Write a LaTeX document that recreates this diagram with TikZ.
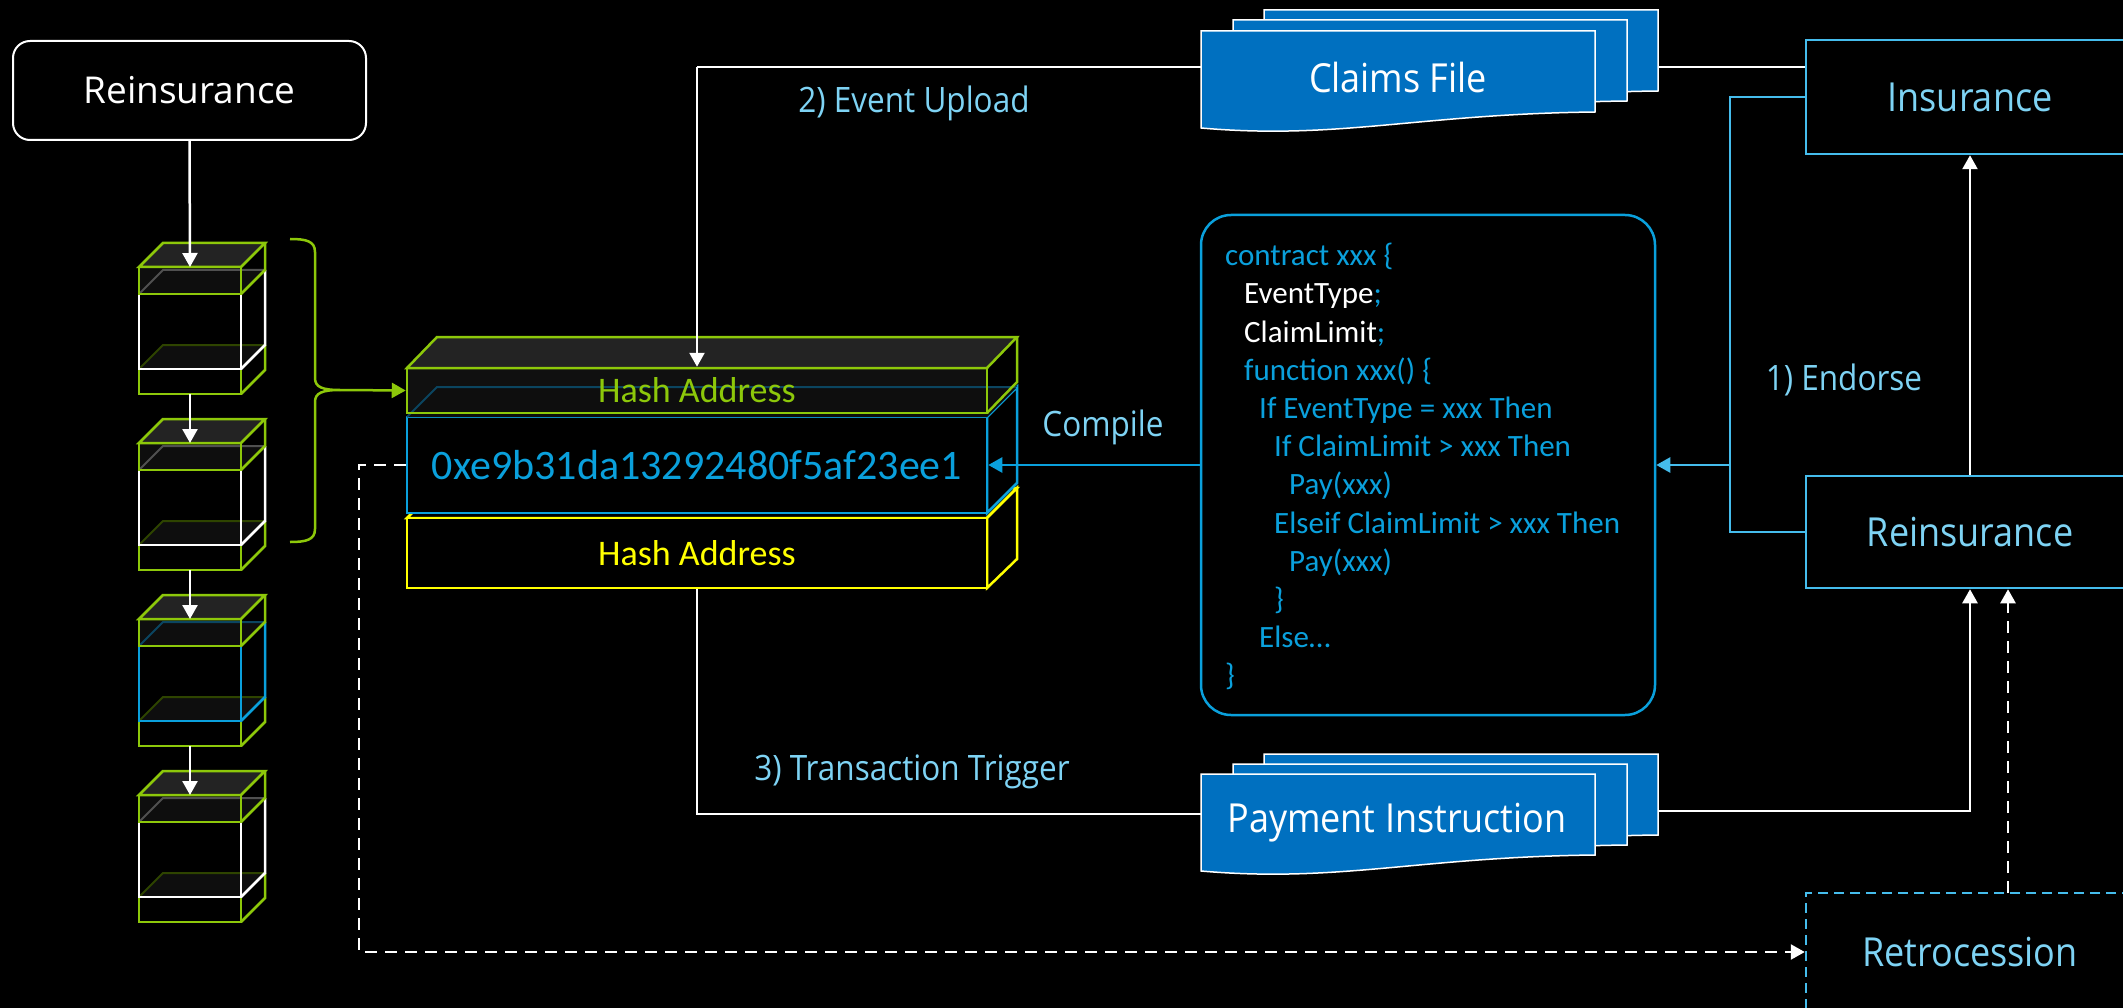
\documentclass[tikz,border=0pt]{standalone}
\usepackage{fontspec}
\setmainfont{Open Sans}
\newfontfamily\ltf[FakeStretch=0.9]{Open Sans}
\newfontfamily\calf{Carlito}
\usetikzlibrary{arrows.meta,calc}
\definecolor{gr}{HTML}{8DC80A}
\definecolor{cb}{HTML}{0AA0DC}
\definecolor{lb}{HTML}{7ED3F4}
\definecolor{bb}{HTML}{45BCEC}
\definecolor{docb}{HTML}{0070C0}
\definecolor{ylw}{HTML}{FFFF00}
\definecolor{pgrey}{HTML}{505050}
\definecolor{pblue}{HTML}{0B4560}
\definecolor{pgreen}{HTML}{2E4400}
\definecolor{topf}{HTML}{232323}
\definecolor{planef}{HTML}{0E0E0E}
\definecolor{slabf}{HTML}{101010}
\tikzset{
  arr/.style={-{Triangle[length=14pt,width=15pt]}},
  wl/.style={draw=white,line width=2.5pt},
  bl/.style={draw=bb,line width=2.5pt},
  cbl/.style={draw=cb,line width=2.5pt},
  gl/.style={draw=gr,line width=2.5pt},
  dsh/.style={draw=white,line width=2.5pt,dash pattern=on 12pt off 8pt},
  doc/.style={fill=docb,draw=white,line width=1.5pt},
  bigbox/.style={draw=bb,line width=2.5pt,minimum width=328pt,inner sep=0pt,text=lb,font=\ltf\fontsize{40}{48}\selectfont},
  lbl/.style={inner sep=0pt,text=lb,font=\ltf\fontsize{35}{42}\selectfont},
  doctext/.style={inner sep=0pt,text=white,font=\ltf\fontsize{40}{48}\selectfont},
  codeln/.style={anchor=base west,inner sep=0pt,text=cb,font=\calf\fontsize{31}{37}\selectfont},
}
% cube: #1 = front top y, #2 = inner colour, #3 = inner plane edge colour
\newcommand\blockcube[3]{%
  \pgfmathsetmacro\ya{#1-24}\pgfmathsetmacro\yc{#1+3}\pgfmathsetmacro\yd{#1+27}%
  \pgfmathsetmacro\ye{#1+78}\pgfmathsetmacro\yf{#1+102}\pgfmathsetmacro\yg{#1+103}\pgfmathsetmacro\yh{#1+127}%
  \fill[planef] (139,#1) rectangle (241,\yd);
  \fill[planef] (139,\yd) -- (241,\yd) -- (265,\yc) -- (163,\yc) -- cycle;
  \fill[planef] (139,\yf) -- (241,\yf) -- (265,\ye) -- (163,\ye) -- cycle;
  \draw[#3,line width=2pt] (139,\yd) -- (163,\yc) -- (265,\yc);
  \draw[pgreen,line width=2pt] (139,\yf) -- (163,\ye) -- (265,\ye);
  \draw[gl] (139,\yf) rectangle (241,\yh);
  \draw[gl] (241,\yh) -- (265,\yg) -- (265,\ye);
  \draw[draw=#2,line width=2.5pt] (139,\yd) rectangle (241,\yf);
  \draw[draw=#2,line width=2.5pt] (265,\yc) -- (265,\ye) -- (241,\yf);
  \filldraw[gl,fill=topf] (139,#1) -- (241,#1) -- (265,\ya) -- (163,\ya) -- cycle;
  \draw[gl] (139,#1) rectangle (241,\yd);
  \draw[gl] (265,\ya) -- (265,\yc) -- (241,\yd);
}
% document shape: #1 = left x, #2 = top y
\newcommand\docshape[2]{%
  \pgfmathsetmacro\xr{#1+394}\pgfmathsetmacro\yb{#2+81}\pgfmathsetmacro\yl{#2+97}%
  \pgfmathsetmacro\ca{#1+217}\pgfmathsetmacro\cbb{#2+83}\pgfmathsetmacro\cc{#1+138}\pgfmathsetmacro\cd{#2+109}%
  \filldraw[doc] (#1,#2) -- (\xr,#2) -- (\xr,\yb) .. controls (\ca,\cbb) and (\cc,\cd) .. (#1,\yl) -- cycle;
}
\begin{document}
\begin{tikzpicture}[x=1pt,y=-1pt]
\useasboundingbox (0,0) rectangle (2123,1008);
\clip (0,0) rectangle (2123,1008);
\fill[black] (0,0) rectangle (2123,1008);

% ---------- left chain ----------
\node[draw=white,line width=2pt,rounded corners=17pt,minimum width=353pt,minimum height=99pt,
      text=white,font=\fontsize{37}{44}\selectfont] (reinsL) at (189.5,90.5) {Reinsurance};
\blockcube{267}{white}{pgrey}
\blockcube{443}{white}{pgrey}
\blockcube{619}{cb}{pblue}
\blockcube{795}{white}{pgrey}
\coordinate (c1t) at (190,267); \coordinate (c1b) at (190,394);
\coordinate (c2t) at (190,443); \coordinate (c2b) at (190,570);
\coordinate (c3t) at (190,619); \coordinate (c3b) at (190,746);
\coordinate (c4t) at (190,795);
\draw[wl,arr] (reinsL.south) -- (c1t);
\draw[wl,arr] (c1b) -- (c2t);
\draw[wl,arr] (c2b) -- (c3t);
\draw[wl,arr] (c3b) -- (c4t);

% brace
\draw[gl] (290,239) .. controls (306,239) and (315,241) .. (315,252) -- (315,378)
  .. controls (315,387) and (322,390) .. (340,390)
  .. controls (322,390) and (315,393) .. (315,402) -- (315,529)
  .. controls (315,540) and (306,542) .. (290,542);
\coordinate (btip) at (340,390);

% ---------- hash block ----------
% yellow
\filldraw[draw=ylw,line width=2.5pt,fill=black] (407,518) -- (437,488) -- (1017,488) -- (987,518) -- cycle;
\filldraw[draw=ylw,line width=2.5pt,fill=black] (987,518) -- (1017,488) -- (1017,559) -- (987,588) -- cycle;
\node[draw=ylw,fill=black,line width=2.5pt,minimum width=580pt,minimum height=70pt,inner sep=0pt,
      text=ylw,font=\calf\fontsize{36}{43}\selectfont] (hashY) at (697,553) {Hash Address};
% blue
\filldraw[cbl,fill=black] (987,417) -- (1017,387) -- (1017,483) -- (987,513) -- cycle;
\node[draw=cb,fill=black,line width=2.5pt,minimum width=580pt,minimum height=96pt,inner sep=0pt,
      text=cb,font=\calf\fontsize{42}{50}\selectfont] (hex) at (697,465) {0xe9b31da13292480f5af23ee1};
% green slab
\fill[slabf] (407,368) rectangle (987,413);
\fill[planef] (407,417) -- (987,417) -- (1017,387) -- (437,387) -- cycle;
\draw[pblue,line width=2pt] (407,417) -- (437,387) -- (1017,387);
\draw[cbl] (1017,387) -- (1017,420);
\filldraw[gl,fill=topf] (407,368) -- (987,368) -- (1017,337) -- (437,337) -- cycle;
\draw[gl] (1017,337) -- (1017,382) -- (987,413);
\node[draw=gr,line width=2.5pt,minimum width=580pt,minimum height=45pt,inner sep=0pt,
      text=gr,font=\calf\fontsize{36}{43}\selectfont] (hashG) at (697,390.5) {Hash Address};
\draw[gl,arr] (btip) -- (hashG.west);

% ---------- documents ----------
\docshape{1264}{10}
\docshape{1233}{20}
\docshape{1201}{31}
\node[doctext] (claims) at (1398,78) {Claims File};
\docshape{1264}{754}
\docshape{1233}{764}
\docshape{1201}{774}
\node[doctext] (pay) at (1397,823) {Payment Instruction};
\coordinate (clL) at (1201,67); \coordinate (clR) at (1659,67);
\coordinate (pyL) at (1201,814); \coordinate (pyR) at (1659,811);

% ---------- code box ----------
\node[draw=cb,line width=2.5pt,rounded corners=30pt,minimum width=454pt,minimum height=500pt,inner sep=0pt] (code) at (1428,465) {};
\node[codeln] (k1) at (1225,265.7) {contract xxx \{};
\node[codeln] (k2) at (1244,303.9) {\textcolor{white}{EventType};};
\node[codeln] (k3) at (1244,342.1) {\textcolor{white}{ClaimLimit};};
\node[codeln] (k4) at (1244,380.3) {function xxx() \{};
\node[codeln] (k5) at (1259,418.5) {If EventType = xxx Then};
\node[codeln] (k6) at (1274,456.7) {If ClaimLimit > xxx Then};
\node[codeln] (k7) at (1289,494.9) {Pay(xxx)};
\node[codeln] (k8) at (1274,533.1) {Elseif ClaimLimit > xxx Then};
\node[codeln] (k9) at (1289,571.3) {Pay(xxx)};
\node[codeln] (k10) at (1274,609.5) {\}};
\node[codeln] (k11) at (1259,647.7) {Else…};
\node[codeln] (k12) at (1225,685.9) {\}};

% ---------- right boxes ----------
\node[bigbox,minimum height=114pt] (ins) at (1970,97) {Insurance};
\node[bigbox,minimum height=112pt] (reins) at (1970,532) {Reinsurance};
\node[bigbox,minimum height=118pt,dash pattern=on 10pt off 6pt] (retro) at (1970,952) {Retrocession};

% ---------- labels ----------
\node[lbl] (lEU) at (914,103) {2) Event Upload};
\node[lbl] (lTT) at (912,772) {3) Transaction Trigger};
\node[lbl] (lCo) at (1103,427) {Compile};
\node[lbl] (lEn) at (1844,380) {1) Endorse};

% ---------- connectors ----------
\coordinate (eu) at (697,67);
\draw[wl] (clL) -- (eu);
\draw[wl,arr] (eu) -- (hashG.north);
\draw[wl] (clR) -- (ins.west |- clR);
\coordinate (tr) at (697,814);
\draw[wl] (hashY.south) -- (tr) -- (pyL);
\draw[wl,arr] (pyR) -- (pyR -| reins.south) -- (reins.south);
\draw[wl,arr] (reins.north) -- (ins.south);
\coordinate (J) at (1730,465);
\draw[bl] (ins.west) -| (J) |- (reins.west);
\draw[bl,arr] (J) -- (code.east);
\draw[cbl,arr] (code.west) -- (hex.east);
\coordinate (d1) at (359,465); \coordinate (d2) at (359,952);
\draw[dsh,arr] (hex.west) -- (d1) -- (d2) -- (retro.west);
\coordinate (rt) at (2008,893);
\draw[dsh,arr] (rt) -- (rt |- reins.south);
\end{tikzpicture}
\end{document}
